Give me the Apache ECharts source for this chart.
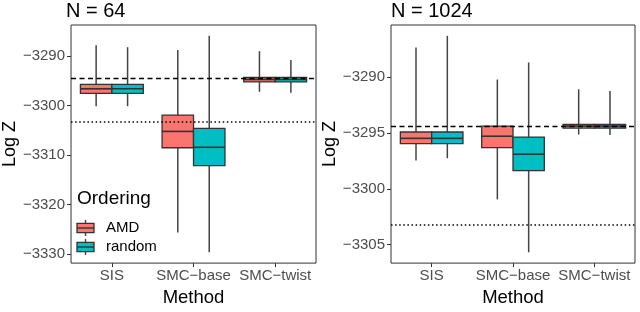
<!DOCTYPE html>
<html>
<head>
<meta charset="utf-8">
<script src="https://cdn.jsdelivr.net/npm/echarts@6/dist/echarts.min.js"></script>
<style>
html,body{margin:0;padding:0;background:#fff;}
#chart{width:640px;height:312px;}
</style>
</head>
<body>
<div id="chart"></div>
<script>
// ---- data ----
const categories = ['SIS', 'SMC\u2212base', 'SMC\u2212twist'];
const groups = ['AMD', 'random'];
const panelTitles = ['N = 64', 'N = 1024'];
// each row: [lower whisker, Q1, median, Q3, upper whisker]
const n64_AMD = [
  [-3300.1, -3297.5, -3296.6, -3295.7, -3287.8],
  [-3325.6, -3308.5, -3305.2, -3301.9, -3288.75],
  [-3297.2, -3295.2, -3294.7, -3294.3, -3289.0]
];
const n64_random = [
  [-3300.1, -3297.5, -3296.6, -3295.7, -3288.2],
  [-3329.6, -3312.1, -3308.4, -3304.6, -3285.9],
  [-3297.4, -3295.2, -3294.7, -3294.3, -3290.8]
];
const n1024_AMD = [
  [-3297.47, -3295.97, -3295.49, -3294.92, -3287.37],
  [-3300.95, -3296.32, -3295.30, -3294.39, -3290.23],
  [-3295.15, -3294.58, -3294.39, -3294.24, -3291.1]
];
const n1024_random = [
  [-3297.27, -3295.97, -3295.49, -3294.92, -3286.32],
  [-3305.68, -3298.38, -3296.91, -3295.38, -3288.70],
  [-3295.2, -3294.58, -3294.39, -3294.24, -3291.25]
];
const dashedRef = -3294.4;
const dottedRef = -3303.25;
const ticks64 = [-3330, -3320, -3310, -3300, -3290];
const ticks1024 = [-3305, -3300, -3295, -3290];

// ---- styling ----
const colors = ['#F8766D', '#00BFC4'];
const FONT = "'Liberation Sans', Arial, Helvetica, sans-serif";
const BOXW = 0.385;

function expandRange(arrs) {
  let lo = Infinity, hi = -Infinity;
  arrs.forEach(a => a.forEach(r => r.forEach(v => { lo = Math.min(lo, v); hi = Math.max(hi, v); })));
  const pad = (hi - lo) * 0.05;
  return [lo - pad, hi + pad];
}
const r64 = expandRange([n64_AMD, n64_random]);
const r1024 = expandRange([n1024_AMD, n1024_random]);

function boxRender(gi) {
  return function (params, api) {
    const ci = api.value(0);
    const band = api.size([1, 0])[0];
    const w = band * BOXW;
    const cx = api.coord([ci, 0])[0] + (gi === 0 ? -w / 2 : w / 2);
    const yl = api.coord([ci, api.value(1)])[1];
    const yq1 = api.coord([ci, api.value(2)])[1];
    const ym = api.coord([ci, api.value(3)])[1];
    const yq3 = api.coord([ci, api.value(4)])[1];
    const yh = api.coord([ci, api.value(5)])[1];
    const lineStyle = { stroke: '#444', lineWidth: 1.5 };
    return {
      type: 'group',
      children: [
        { type: 'line', shape: { x1: cx, y1: yh, x2: cx, y2: yq3 }, style: lineStyle },
        { type: 'line', shape: { x1: cx, y1: yq1, x2: cx, y2: yl }, style: lineStyle },
        { type: 'rect', shape: { x: cx - w / 2, y: yq3, width: w, height: yq1 - yq3 },
          style: { fill: colors[gi], stroke: '#333', lineWidth: 1.3 } },
        { type: 'line', shape: { x1: cx - w / 2, y1: ym, x2: cx + w / 2, y2: ym },
          style: { stroke: '#333', lineWidth: 1.6 } }
      ]
    };
  };
}

function toData(rows) {
  return rows.map((r, i) => [i].concat(r));
}

function yAxisCfg(gridIndex, range, ticks, nameGap) {
  return {
    type: 'value', gridIndex: gridIndex, min: range[0], max: range[1],
    name: 'Log Z', nameLocation: 'middle', nameGap: nameGap,
    nameTextStyle: { fontFamily: FONT, fontSize: 18, color: '#000' },
    splitLine: { show: false },
    axisLine: { show: false },
    axisTick: { show: true, length: 4, lineStyle: { color: '#333', width: 1 }, customValues: ticks },
    axisLabel: { fontFamily: FONT, fontSize: 15, color: '#4D4D4D', margin: 6,
      customValues: ticks, formatter: v => String(v).replace('-', '\u2212') }
  };
}
function xAxisCfg(gridIndex) {
  return {
    type: 'category', gridIndex: gridIndex, data: categories,
    name: 'Method', nameLocation: 'middle', nameGap: 21,
    nameTextStyle: { fontFamily: FONT, fontSize: 18.5, color: '#000' },
    axisLine: { show: false },
    axisTick: { show: true, alignWithLabel: true, length: 4, lineStyle: { color: '#333', width: 1 } },
    axisLabel: { fontFamily: FONT, fontSize: 15, color: '#4D4D4D', margin: 5, interval: 0 },
    splitLine: { show: false }
  };
}

function refSeries(xi, yi) {
  return {
    type: 'line', xAxisIndex: xi, yAxisIndex: yi, data: [], z: 1, silent: true,
    markLine: {
      silent: true, symbol: 'none', label: { show: false },
      data: [
        { yAxis: dashedRef, lineStyle: { color: '#000', type: [5, 3.5], width: 1.4 } },
        { yAxis: dottedRef, lineStyle: { color: '#000', type: [1.5, 2.6], width: 1.5 } }
      ]
    }
  };
}

const panels = [[n64_AMD, n64_random], [n1024_AMD, n1024_random]];
const series = [];
panels.forEach((p, pi) => {
  series.push(refSeries(pi, pi));
  p.forEach((rows, gi) => {
    series.push({
      type: 'custom', name: groups[gi], xAxisIndex: pi, yAxisIndex: pi, z: 3,
      renderItem: boxRender(gi), data: toData(rows),
      encode: { x: 0, y: [1, 2, 3, 4, 5] }
    });
  });
});

// legend (ggplot-style boxplot keys)
function legendKey(y, color) {
  const x0 = 77, kw = 17, cx = x0 + kw / 2;
  return [
    { type: 'line', shape: { x1: cx, y1: y - 8, x2: cx, y2: y + 8 }, style: { stroke: '#444', lineWidth: 1.4 } },
    { type: 'rect', shape: { x: x0, y: y - 4.7, width: kw, height: 9.4 }, style: { fill: color, stroke: '#333', lineWidth: 1.3 } },
    { type: 'line', shape: { x1: x0, y1: y, x2: x0 + kw, y2: y }, style: { stroke: '#333', lineWidth: 1.4 } }
  ];
}
const legendGraphics = [
  { type: 'text', left: 77, top: 189, style: { text: 'Ordering', font: '19px ' + FONT, fill: '#000' } }
].concat(legendKey(228, colors[0])).concat(legendKey(247, colors[1])).concat([
  { type: 'text', x: 106, y: 228, style: { text: groups[0], font: '15px ' + FONT, fill: '#000', verticalAlign: 'middle' } },
  { type: 'text', x: 106, y: 247, style: { text: groups[1], font: '15px ' + FONT, fill: '#000', verticalAlign: 'middle' } }
]);

const option = {
  animation: false,
  backgroundColor: '#fff',
  title: [
    { text: panelTitles[0], left: 66, top: 1, padding: 0, textStyle: { fontFamily: FONT, fontSize: 20, fontWeight: 'normal', color: '#000' } },
    { text: panelTitles[1], left: 391, top: 1, padding: 0, textStyle: { fontFamily: FONT, fontSize: 20, fontWeight: 'normal', color: '#000' } }
  ],
  grid: [
    { left: 67, top: 25, width: 249, height: 250, show: true, borderColor: '#333', borderWidth: 1, backgroundColor: 'transparent' },
    { left: 391, top: 25, width: 244, height: 250, show: true, borderColor: '#333', borderWidth: 1, backgroundColor: 'transparent' }
  ],
  xAxis: [xAxisCfg(0), xAxisCfg(1)],
  yAxis: [yAxisCfg(0, r64, ticks64, 51), yAxisCfg(1, r1024, ticks1024, 49)],
  series: series,
  graphic: legendGraphics
};

const chart = echarts.init(document.getElementById('chart'), null, { renderer: 'canvas' });
chart.setOption(option);
</script>
</body>
</html>
